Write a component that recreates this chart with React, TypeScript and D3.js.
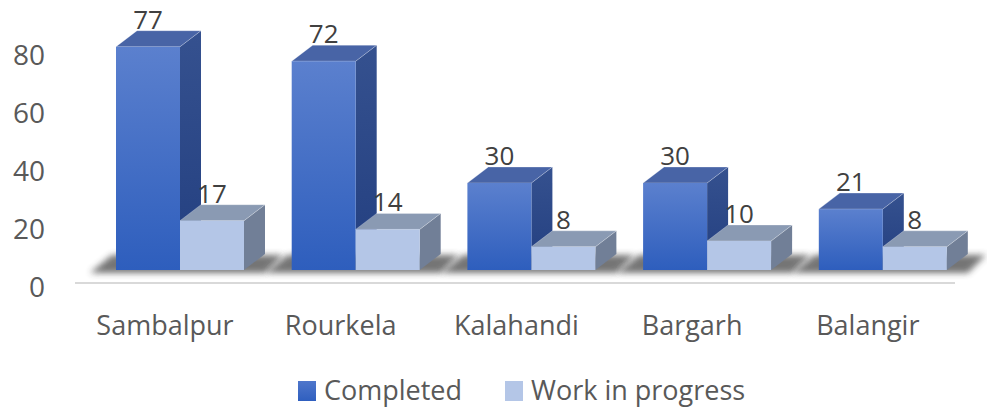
import React from "react";
import * as d3 from "d3";

const categories = ["Sambalpur", "Rourkela", "Kalahandi", "Bargarh", "Balangir"];
const completed = [77, 72, 30, 30, 21];
const workInProgress = [17, 14, 8, 10, 8];
const yTicks = [0, 20, 40, 60, 80];
const seriesNames = ["Completed", "Work in progress"];

const W = 987;
const H = 412;
const DX = 21;
const DY = -16;
const BAR_W = 64;
const TEXT = "#595959";
const FONT = "'Open Sans', 'Noto Sans', sans-serif";

export default function App() {
  const x = d3.scaleBand<string>().domain(categories).range([90, 90 + 5 * 175.7]).padding(0);
  const yBar = d3.scaleLinear().domain([0, 80]).range([270, 38]);
  const yLab = d3.scaleLinear().domain([0, 80]).range([286, 54]);

  const series = [
    { values: completed, front: "url(#gBlue)", top: "#4864a6", side: "url(#gBlueSide)", offset: 26 },
    { values: workInProgress, front: "#b4c6e7", top: "#8a9ab3", side: "#717f97", offset: 26 + BAR_W },
  ];

  const bar = (x0: number, v: number, s: any, key: string) => {
    const yb = yBar(0);
    const yt = yBar(v);
    const x1 = x0 + BAR_W;
    const topPts = `${x0},${yt} ${x0 + DX},${yt + DY} ${x1 + DX},${yt + DY} ${x1},${yt}`;
    const sidePts = `${x1},${yt} ${x1 + DX},${yt + DY} ${x1 + DX},${yb + DY} ${x1},${yb}`;
    return (
      <g key={key}>
        <polygon points={sidePts} fill={s.side} />
        <polygon points={topPts} fill={s.top} stroke="rgba(255,255,255,0.35)" strokeWidth={0.8} />
        <rect x={x0} y={yt} width={BAR_W} height={yb - yt} fill={s.front} />
      </g>
    );
  };

  return (
    <svg width={W} height={H} style={{ position: "absolute", left: 0, top: 0, background: "#fff" }}>
      <defs>
        <linearGradient id="gBlue" x1="0" y1="0" x2="0" y2="1">
          <stop offset="0" stopColor="#5b80ce" />
          <stop offset="1" stopColor="#2e5ebd" />
        </linearGradient>
        <linearGradient id="gBlueSide" x1="0" y1="0" x2="0" y2="1">
          <stop offset="0" stopColor="#35518f" />
          <stop offset="1" stopColor="#233f80" />
        </linearGradient>
        <linearGradient id="gLegBlue" x1="0" y1="0" x2="0" y2="1">
          <stop offset="0" stopColor="#4f76cb" />
          <stop offset="1" stopColor="#2f5fbf" />
        </linearGradient>
        <filter id="blur" x="-20%" y="-50%" width="140%" height="200%">
          <feGaussianBlur stdDeviation="3" />
        </filter>
      </defs>

      {/* axis line */}
      <line x1={75} x2={955} y1={283} y2={283} stroke="#d9d9d9" strokeWidth={2} />

      {/* floor shadows */}
      {categories.map((c) => {
        const l = (x(c) as number) + 26;
        const r = l + 2 * BAR_W;
        const yb = yBar(0) + 3;
        return (
          <polygon
            key={"sh" + c}
            points={`${l - 26},${yb} ${l - 4},${yb - 18} ${r + DX + 18},${yb - 18} ${r + DX},${yb}`}
            fill="#3a3a3a"
            opacity={0.7}
            filter="url(#blur)"
          />
        );
      })}

      {/* y tick labels */}
      {yTicks.map((t) => (
        <text key={"t" + t} x={45} y={yLab(t)} textAnchor="end" dominantBaseline="central" fontFamily={FONT} fontSize={28} fill={TEXT}>
          {t}
        </text>
      ))}

      {/* bars */}
      {categories.map((c, i) => (
        <g key={c}>
          {series.map((s, j) => bar((x(c) as number) + s.offset, s.values[i], s, c + j))}
        </g>
      ))}

      {/* data labels */}
      {categories.map((c, i) =>
        series.map((s, j) => (
          <text
            key={"dl" + c + j}
            x={(x(c) as number) + s.offset + BAR_W / 2}
            y={yBar(s.values[i]) + DY - 2}
            textAnchor="middle"
            fontFamily={FONT}
            fontSize={26}
            fill="#404040"
          >
            {s.values[i]}
          </text>
        ))
      )}

      {/* category labels */}
      {categories.map((c) => (
        <text key={"cl" + c} x={(x(c) as number) + 75} y={335} textAnchor="middle" fontFamily={FONT} fontSize={27} fill={TEXT}>
          {c}
        </text>
      ))}

      {/* legend */}
      <g>
        <rect x={298} y={381} width={18} height={20} fill="url(#gLegBlue)" />
        <text x={324} y={400} fontFamily={FONT} fontSize={27} fill={TEXT}>{seriesNames[0]}</text>
        <rect x={505} y={381} width={18} height={20} fill="#b4c6e7" />
        <text x={531} y={400} fontFamily={FONT} fontSize={27} fill={TEXT}>{seriesNames[1]}</text>
      </g>
    </svg>
  );
}
